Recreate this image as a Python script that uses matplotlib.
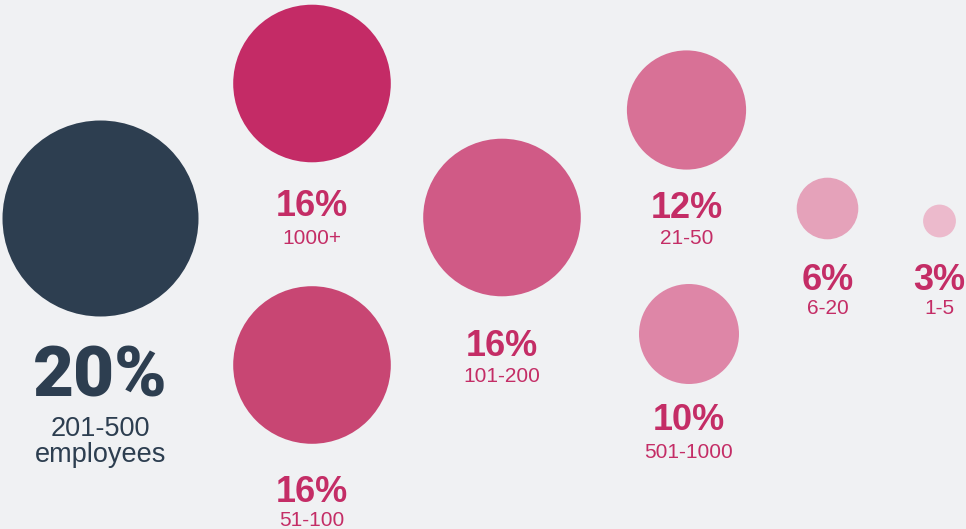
import matplotlib.pyplot as plt
from matplotlib.patches import Circle

# share of companies by employee count
groups = ['201-500\nemployees', '1000+', '51-100', '101-200', '21-50', '501-1000', '6-20', '1-5']
shares = [20, 16, 16, 16, 12, 10, 6, 3]

# layout (pixels, origin top-left)
cx = [100.5, 312, 312, 502, 686.5, 689, 827.5, 939.5]
cy = [218.5, 83.5, 365, 217.5, 110, 334, 208.5, 221]
pct_y = [377, 207, 493, 346, 208, 421, 280, 280]
lab_y = [442, 238, 520, 376, 238, 453, 309, 309]
colors = ['#2d3e50', '#c42b66', '#c84673', '#d05a86', '#d87196', '#de86a7', '#e5a2ba', '#ecbacc']

bg = '#f0f1f3'
pink = '#c42d66'
navy = '#2d3e50'

fig = plt.figure(figsize=(9.66, 5.29), dpi=100, facecolor=bg)
ax = fig.add_axes([0, 0, 1, 1])
ax.set_facecolor(bg)
ax.set_xlim(0, 966)
ax.set_ylim(529, 0)
ax.set_aspect('equal')
ax.axis('off')

for i, v in enumerate(shares):
    r = 4.8 * v + 2
    ax.add_patch(Circle((cx[i], cy[i]), r, color=colors[i], lw=0))
    if i == 0:
        ax.text(cx[i], pct_y[i], f'{v}%', ha='center', va='center', color=navy,
                fontsize=51, fontweight='heavy', family='Roboto')
        ax.text(cx[i], lab_y[i], groups[i], ha='center', va='center', color=navy,
                fontsize=19.5, family='Liberation Sans', linespacing=0.98)
    else:
        ax.text(cx[i], pct_y[i], f'{v}%', ha='center', va='center', color=pink,
                fontsize=26, fontweight='bold', family='Liberation Sans')
        ax.text(cx[i], lab_y[i], groups[i], ha='center', va='center', color=pink,
                fontsize=15, family='Liberation Sans')

fig.savefig('out.png', dpi=100, facecolor=bg)
